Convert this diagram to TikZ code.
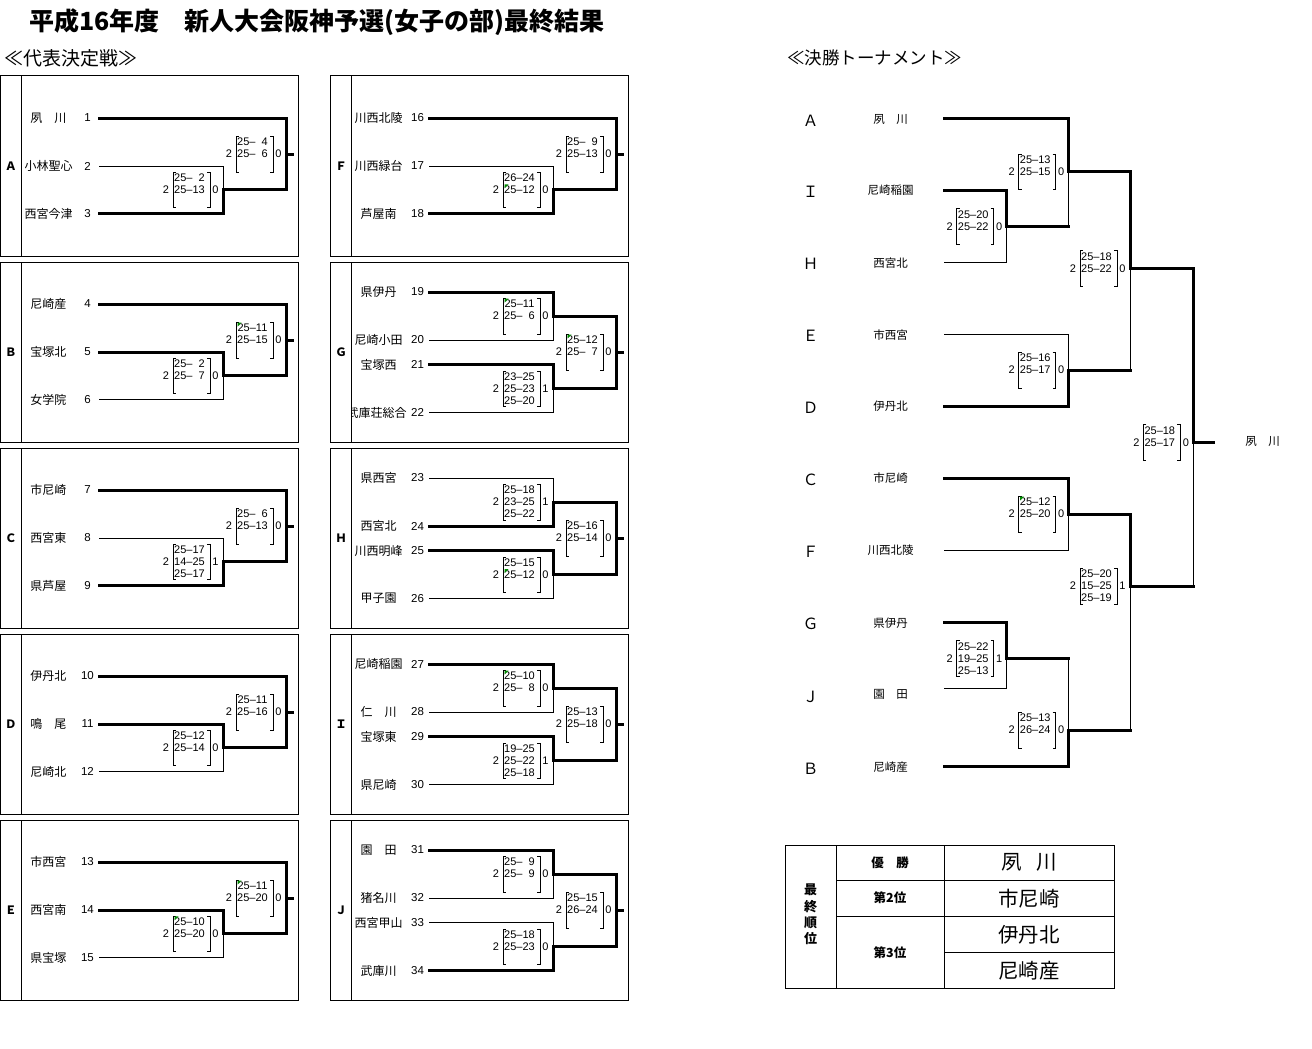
\documentclass[tikz,border=0pt]{standalone}
\usepackage{fontspec}
\setmainfont{Liberation Sans}
\newfontfamily\jp{Noto Sans CJK JP}
\definecolor{gmkc}{RGB}{0,140,0}
\tikzset{
  thk/.style={line width=3pt, line cap=rect, line join=miter},
  thn/.style={line width=1pt},
  frm/.style={line width=1pt},
  brk/.style={line width=1pt},
  sc/.style={inner sep=0pt, font=\fontsize{11}{11}\selectfont},
  tname/.style={inner sep=0pt, font=\jp\fontsize{12}{12}\selectfont},
  tnum/.style={inner sep=0pt, font=\fontsize{11.5}{11.5}\selectfont},
  glab/.style={inner sep=0pt, font=\jp\bfseries\fontsize{11.5}{11.5}\selectfont},
  flet/.style={inner sep=0pt, font=\jp\fontsize{15.5}{15.5}\selectfont},
  fname/.style={inner sep=0pt, font=\jp\fontsize{11.5}{11.5}\selectfont},
  thead/.style={inner sep=0pt, font=\jp\bfseries\fontsize{12.5}{12.5}\selectfont},
  tbig/.style={inner sep=0pt, font=\jp\fontsize{20.5}{20.5}\selectfont},
  gmk/.style={fill=gmkc},
}
\newcommand{\pd}{\hphantom{0}}
\newcommand{\scorebox}[8]{%
  \draw[brk] (#2-47,#3-17.5) -- (#2-50,#3-17.5) -- (#2-50,#3+18) -- (#2-47,#3+18);
  \draw[brk] (#2-16,#3-17.5) -- (#2-13,#3-17.5) -- (#2-13,#3+18) -- (#2-16,#3+18);
  \node[sc] (#1-l) at (#2-57,#3) {#4};
  \node[sc] (#1-r) at (#2-7.5,#3) {#5};
  \node[sc] (#1-a) at (#2-33.5,#3-12) {#6};
  \node[sc] (#1-b) at (#2-33.5,#3) {#7};
  \node[sc] (#1-c) at (#2-33.5,#3+12) {#8};
}
\newcommand{\gm}[2]{\fill[gmk] (#1-48.5,#2-5.5) -- ++(4,0) -- ++(-4,4) -- cycle;}
\newcommand{\groupframe}[1]{%
  \draw[frm] (0.5,0) rectangle (298,180);
  \draw[frm] (21,0) -- (21,180);
  \node[glab] (lab) at (11,90) {#1};
}
\newcommand{\teamrow}[4]{%
  \node[tname] (n#1) at (48.5,#2) {#3};
  \node[tnum] (k#1) at (87.5,#2) {#4};
  \coordinate (s#1) at (99,#2);
}
\newcommand{\threecoords}{%
  \coordinate (e1) at (286,42);
  \coordinate (e2) at (223,90);
  \coordinate (e3) at (223,137.5);
  \coordinate (m) at (223,113.75);
  \coordinate (me) at (286,113.75);
  \coordinate (o) at (286,78);
  \coordinate (oe) at (292,78);
}
\newcommand{\linesthree}[1]{%
  \draw[thk] (s1) -- (e1) -- (me);
  \ifnum#1=2
    \draw[thk] (s2) -- (e2) -- (m) -- (me);
    \draw[thn] (s3) -- (e3) -- (m);
  \else
    \draw[thn] (s2) -- (e2) -- (m);
    \draw[thk] (s3) -- (e3) -- (m) -- (me);
  \fi
  \draw[thk] (o) -- (oe);
}
\newcommand{\fourcoords}{%
  \coordinate (e1) at (223,30);
  \coordinate (e2) at (223,78);
  \coordinate (e3) at (223,102.5);
  \coordinate (e4) at (223,150.5);
  \coordinate (m1) at (223,54);
  \coordinate (m1e) at (286,54);
  \coordinate (m2) at (223,126.5);
  \coordinate (m2e) at (286,126.5);
  \coordinate (o) at (286,90);
  \coordinate (oe) at (292,90);
}
\newcommand{\linesfour}[2]{%
  \ifnum#1=1
    \draw[thk] (s1) -- (e1) -- (m1); \draw[thn] (s2) -- (e2) -- (m1);
  \else
    \draw[thn] (s1) -- (e1) -- (m1); \draw[thk] (s2) -- (e2) -- (m1);
  \fi
  \ifnum#2=3
    \draw[thk] (s3) -- (e3) -- (m2); \draw[thn] (s4) -- (e4) -- (m2);
  \else
    \draw[thn] (s3) -- (e3) -- (m2); \draw[thk] (s4) -- (e4) -- (m2);
  \fi
  \draw[thk] (m1) -- (m1e) -- (m2e) -- (m2);
  \draw[thk] (o) -- (oe);
}
\begin{document}
\begin{tikzpicture}[x=1pt,y=-1pt]
\useasboundingbox (0,0) rectangle (1312,1049);
\fill[white] (0,0) rectangle (1312,1049);

\node[anchor=west, inner sep=0pt, font=\jp\bfseries\fontsize{25}{25}\selectfont] (title) at (29,22) {平成16年度　新人大会阪神予選(女子の部)最終結果};
\node[anchor=west, inner sep=0pt, font=\jp\fontsize{19}{19}\selectfont] (sec1) at (4,58) {≪代表決定戦≫};
\node[anchor=west, inner sep=0pt, font=\jp\fontsize{17.5}{17.5}\selectfont] (sec2) at (787,58) {≪決勝トーナメント≫};

% ---------- Group A ----------
\begin{scope}[shift={(0,76)}, name prefix=A-]
 \groupframe{Ａ}
 \teamrow{1}{42}{夙　川}{1}
 \teamrow{2}{90}{小林聖心}{2}
 \teamrow{3}{137.5}{西宮今津}{3}
 \threecoords
 \linesthree{3}
 \scorebox{in}{223}{113.75}{2}{0}{25–\pd2}{25–13}{}
 \scorebox{out}{286}{78}{2}{0}{25–\pd4}{25–\pd6}{}
\end{scope}
% ---------- Group B ----------
\begin{scope}[shift={(0,262)}, name prefix=B-]
 \groupframe{Ｂ}
 \teamrow{1}{42}{尼崎産}{4}
 \teamrow{2}{90}{宝塚北}{5}
 \teamrow{3}{137.5}{女学院}{6}
 \threecoords
 \linesthree{2}
 \scorebox{in}{223}{113.75}{2}{0}{25–\pd2}{25–\pd7}{}
 \scorebox{out}{286}{78}{2}{0}{25–11}{25–15}{}
 \gm{286}{66}
\end{scope}
% ---------- Group C ----------
\begin{scope}[shift={(0,448)}, name prefix=C-]
 \groupframe{Ｃ}
 \teamrow{1}{42}{市尼崎}{7}
 \teamrow{2}{90}{西宮東}{8}
 \teamrow{3}{137.5}{県芦屋}{9}
 \threecoords
 \linesthree{3}
 \scorebox{in}{223}{113.75}{2}{1}{25–17}{14–25}{25–17}
 \scorebox{out}{286}{78}{2}{0}{25–\pd6}{25–13}{}
\end{scope}
% ---------- Group D ----------
\begin{scope}[shift={(0,634)}, name prefix=D-]
 \groupframe{Ｄ}
 \teamrow{1}{42}{伊丹北}{10}
 \teamrow{2}{90}{鳴　尾}{11}
 \teamrow{3}{137.5}{尼崎北}{12}
 \threecoords
 \linesthree{2}
 \scorebox{in}{223}{113.75}{2}{0}{25–12}{25–14}{}
 \scorebox{out}{286}{78}{2}{0}{25–11}{25–16}{}
\end{scope}
% ---------- Group E ----------
\begin{scope}[shift={(0,820)}, name prefix=E-]
 \groupframe{Ｅ}
 \teamrow{1}{42}{市西宮}{13}
 \teamrow{2}{90}{西宮南}{14}
 \teamrow{3}{137.5}{県宝塚}{15}
 \threecoords
 \linesthree{2}
 \scorebox{in}{223}{113.75}{2}{0}{25–10}{25–20}{}
 \scorebox{out}{286}{78}{2}{0}{25–11}{25–20}{}
 \gm{223}{101.75}
 \gm{286}{66}
\end{scope}
% ---------- Group F ----------
\begin{scope}[shift={(330,76)}, name prefix=F-]
 \groupframe{Ｆ}
 \teamrow{1}{42}{川西北陵}{16}
 \teamrow{2}{90}{川西緑台}{17}
 \teamrow{3}{137.5}{芦屋南}{18}
 \threecoords
 \linesthree{3}
 \scorebox{in}{223}{113.75}{2}{0}{26–24}{25–12}{}
 \scorebox{out}{286}{78}{2}{0}{25–\pd9}{25–13}{}
 \gm{223}{113.75}
\end{scope}
% ---------- Group G ----------
\begin{scope}[shift={(330,262)}, name prefix=G-]
 \groupframe{Ｇ}
 \teamrow{1}{30}{県伊丹}{19}
 \teamrow{2}{78}{尼崎小田}{20}
 \teamrow{3}{102.5}{宝塚西}{21}
 \begin{scope}
  \clip (21.5,0) rectangle (298,180);
  \node[tname] (n4) at (46.5,150.5) {武庫荘総合};
 \end{scope}
 \node[tnum] (k4) at (87.5,150.5) {22};
 \coordinate (s4) at (99,150.5);
 \fourcoords
 \linesfour{1}{3}
 \scorebox{ma}{223}{54}{2}{0}{25–11}{25–\pd6}{}
 \scorebox{mb}{223}{126.5}{2}{1}{23–25}{25–23}{25–20}
 \scorebox{out}{286}{90}{2}{0}{25–12}{25–\pd7}{}
 \gm{223}{42}
 \gm{286}{78}
\end{scope}
% ---------- Group H ----------
\begin{scope}[shift={(330,448)}, name prefix=H-]
 \groupframe{Ｈ}
 \teamrow{1}{30}{県西宮}{23}
 \teamrow{2}{78}{西宮北}{24}
 \teamrow{3}{102.5}{川西明峰}{25}
 \teamrow{4}{150.5}{甲子園}{26}
 \fourcoords
 \linesfour{2}{3}
 \scorebox{ma}{223}{54}{2}{1}{25–18}{23–25}{25–22}
 \scorebox{mb}{223}{126.5}{2}{0}{25–15}{25–12}{}
 \scorebox{out}{286}{90}{2}{0}{25–16}{25–14}{}
 \gm{223}{126.5}
\end{scope}
% ---------- Group I ----------
\begin{scope}[shift={(330,634)}, name prefix=I-]
 \groupframe{Ｉ}
 \teamrow{1}{30}{尼崎稲園}{27}
 \teamrow{2}{78}{仁　川}{28}
 \teamrow{3}{102.5}{宝塚東}{29}
 \teamrow{4}{150.5}{県尼崎}{30}
 \fourcoords
 \linesfour{1}{3}
 \scorebox{ma}{223}{54}{2}{0}{25–10}{25–\pd8}{}
 \scorebox{mb}{223}{126.5}{2}{1}{19–25}{25–22}{25–18}
 \scorebox{out}{286}{90}{2}{0}{25–13}{25–18}{}
 \gm{223}{42}
\end{scope}
% ---------- Group J ----------
\begin{scope}[shift={(330,820)}, name prefix=J-]
 \groupframe{Ｊ}
 \teamrow{1}{30}{園　田}{31}
 \teamrow{2}{78}{猪名川}{32}
 \teamrow{3}{102.5}{西宮甲山}{33}
 \teamrow{4}{150.5}{武庫川}{34}
 \fourcoords
 \linesfour{1}{4}
 \scorebox{ma}{223}{54}{2}{0}{25–\pd9}{25–\pd9}{}
 \scorebox{mb}{223}{126.5}{2}{0}{25–18}{25–23}{}
 \scorebox{out}{286}{90}{2}{0}{25–15}{26–24}{}
\end{scope}

% ---------- Final tournament ----------
\node[flet] (LA) at (810.5,120.5) {Ａ};  \node[fname] (NA) at (890.5,119) {夙　川};   \coordinate (SA) at (944.3,118.7);
\node[flet] (LI) at (810.5,191.5) {Ｉ};  \node[fname] (NI) at (890.5,190.5) {尼崎稲園}; \coordinate (SI) at (944.3,190);
\node[flet] (LH) at (810.5,264) {Ｈ};    \node[fname] (NH) at (890.5,262.8) {西宮北};  \coordinate (SH) at (944.3,262.3);
\node[flet] (LE) at (810.5,336) {Ｅ};    \node[fname] (NE) at (890.5,334.8) {市西宮};  \coordinate (SE) at (944.3,334.3);
\node[flet] (LD) at (810.5,408) {Ｄ};    \node[fname] (ND) at (890.5,406.5) {伊丹北};  \coordinate (SD) at (944.3,406);
\node[flet] (LC) at (810.5,479.5) {Ｃ};  \node[fname] (NC) at (890.5,478.5) {市尼崎};  \coordinate (SC) at (944.3,478.3);
\node[flet] (LF) at (810.5,551.5) {Ｆ};  \node[fname] (NF) at (890.5,550.5) {川西北陵}; \coordinate (SF) at (944.3,550);
\node[flet] (LG) at (810.5,624) {Ｇ};    \node[fname] (NG) at (890.5,622.7) {県伊丹};  \coordinate (SG) at (944.3,622.3);
\node[flet] (LJ) at (810.5,696.5) {Ｊ};  \node[fname] (NJ) at (890.5,694.5) {園　田};  \coordinate (SJ) at (944.3,688.3);
\node[flet] (LB) at (810.5,768.3) {Ｂ};  \node[fname] (NB) at (890.5,767) {尼崎産};  \coordinate (SB) at (944.3,766.7);
\node[fname] (WIN) at (1262.5,441.7) {夙　川};

\coordinate (cA) at (1068.7,118.7);
\coordinate (qAIH) at (1068.7,171.7);
\coordinate (cI) at (1006.7,190);
\coordinate (qIH) at (1006.7,226.3);
\coordinate (qIHe) at (1068.7,226.3);
\coordinate (cH) at (1006.7,262.3);
\coordinate (q1e) at (1130,171.7);
\coordinate (qS1) at (1130,268.3);
\coordinate (qS1e) at (1193.3,268.3);
\coordinate (cE) at (1068.7,334.3);
\coordinate (qED) at (1068.7,370);
\coordinate (qEDe) at (1130,370);
\coordinate (cD) at (1068.7,406);
\coordinate (qF) at (1193.3,442.3);
\coordinate (qFe) at (1213.3,442.3);
\coordinate (cC) at (1068.7,478.3);
\coordinate (qCF) at (1068.7,514);
\coordinate (qCFe) at (1130,514);
\coordinate (cFt) at (1068.7,550);
\coordinate (qS2) at (1130,586);
\coordinate (qS2e) at (1193.3,586);
\coordinate (cG) at (1006.7,622.3);
\coordinate (qGJ) at (1006.7,658.3);
\coordinate (qGJe) at (1068.7,658.3);
\coordinate (cJ) at (1006.7,688.3);
\coordinate (qGB) at (1068.7,730);
\coordinate (qGBe) at (1130,730);
\coordinate (cB) at (1068.7,766.7);

\draw[thk] (SA) -- (cA) -- (qAIH) -- (q1e) -- (qS1) -- (qS1e) -- (qF) -- (qFe);
\draw[thn] (qAIH) -- (qIHe);
\draw[thk] (SI) -- (cI) -- (qIH) -- (qIHe);
\draw[thn] (SH) -- (cH) -- (qIH);
\draw[thn] (SE) -- (cE) -- (qED);
\draw[thk] (SD) -- (cD) -- (qED) -- (qEDe);
\draw[thn] (qEDe) -- (qS1);
\draw[thk] (SC) -- (cC) -- (qCF) -- (qCFe) -- (qS2) -- (qS2e);
\draw[thn] (qS2e) -- (qF);
\draw[thn] (SF) -- (cFt) -- (qCF);
\draw[thk] (SG) -- (cG) -- (qGJ) -- (qGJe);
\draw[thn] (SJ) -- (cJ) -- (qGJ);
\draw[thn] (qGJe) -- (qGB);
\draw[thk] (SB) -- (cB) -- (qGB) -- (qGBe);
\draw[thn] (qGBe) -- (qS2);

\scorebox{fIH}{1006.7}{226.3}{2}{0}{25–20}{25–22}{}
\scorebox{fAIH}{1068.7}{171.7}{2}{0}{25–13}{25–15}{}
\scorebox{fED}{1068.7}{370}{2}{0}{25–16}{25–17}{}
\scorebox{fS1}{1130}{268.3}{2}{0}{25–18}{25–22}{}
\scorebox{fFin}{1193.3}{442.3}{2}{0}{25–18}{25–17}{}
\scorebox{fCF}{1068.7}{514}{2}{0}{25–12}{25–20}{}
\scorebox{fGJ}{1006.7}{658.3}{2}{1}{25–22}{19–25}{25–13}
\scorebox{fGB}{1068.7}{730}{2}{0}{25–13}{26–24}{}
\scorebox{fS2}{1130}{586}{2}{1}{25–20}{15–25}{25–19}
\gm{1068.7}{502}

% ---------- Final ranking table ----------
\draw[frm] (785,845) rectangle (1114,988);
\draw[frm] (836,845) -- (836,988);
\draw[frm] (944,845) -- (944,988);
\draw[frm] (836,880) -- (1114,880);
\draw[frm] (836,916) -- (1114,916);
\draw[frm] (944,952) -- (1114,952);
\node[inner sep=0pt, align=center, font=\jp\bfseries\fontsize{13}{16.3}\selectfont] (rk) at (810.5,914.5) {最\\終\\順\\位};
\node[thead] (h1) at (890,862.5) {優　勝};
\node[thead] (h2) at (890,898) {第2位};
\node[thead] (h3) at (890,953) {第3位};
\node[tbig] (r1) at (1029,862.5) {夙\hspace{0.7em}川};
\node[tbig] (r2) at (1029,898.5) {市尼崎};
\node[tbig] (r3) at (1029,934.5) {伊丹北};
\node[tbig] (r4) at (1029,970.5) {尼崎産};
\end{tikzpicture}
\end{document}
